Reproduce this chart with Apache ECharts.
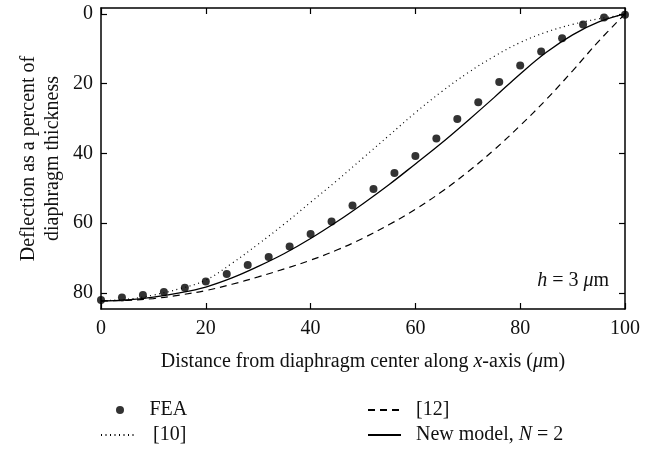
<!DOCTYPE html>
<html>
<head>
<meta charset="utf-8">
<script src="https://cdn.jsdelivr.net/npm/echarts@6/dist/echarts.min.js"></script>
<style>
html, body { margin: 0; padding: 0; background: #fff; }
#chart { width: 659px; height: 451px; }
</style>
</head>
<body>
<div id="chart"></div>
<script>
// FEA points, x = 0, 4, 8 ... 100 (um)
var feaX = [0, 4, 8, 12, 16, 20, 24, 28, 32, 36, 40, 44, 48, 52, 56, 60, 64, 68, 72, 76, 80, 84, 88, 92, 96, 100];
var feaY = [82.0, 81.3, 80.6, 79.7, 78.5, 76.7, 74.6, 72.0, 69.7, 66.7, 63.1, 59.5, 54.9, 50.2, 45.6, 40.7, 35.7, 30.1, 25.3, 19.5, 14.8, 10.8, 7.0, 3.0, 1.0, 0.2];

// curves sampled every 5 um
var curveX = [0, 5, 10, 15, 20, 25, 30, 35, 40, 45, 50, 55, 60, 65, 70, 75, 80, 85, 90, 95, 100];
var ref10 = [82.2, 81.8, 80.6, 78.8, 76.3, 71.5, 66.0, 60.2, 54.0, 47.8, 41.3, 34.8, 28.3, 22.3, 16.9, 12.2, 8.2, 5.2, 3.0, 1.4, 0.2];
var ref12 = [82.3, 82.1, 81.6, 80.6, 79.3, 77.5, 75.4, 73.1, 70.6, 67.7, 64.3, 60.4, 56.0, 51.0, 45.3, 39.0, 32.0, 24.5, 16.3, 7.8, 0.0];
var newModel = [82.3, 82.0, 81.2, 80.0, 78.3, 75.7, 72.4, 68.7, 64.4, 59.6, 54.4, 48.9, 43.0, 37.0, 30.6, 24.0, 17.2, 11.0, 6.0, 2.3, 0.0];

var yTicks = [0, 20, 40, 60, 80];

function pairs(xs, ys) {
    return xs.map(function (x, i) { return [x, ys[i]]; });
}

var chart = echarts.init(document.getElementById('chart'));
var font = 'Liberation Serif';
var fs = 20;
var rich = {
    a: { fontFamily: font, fontSize: fs, color: '#111' },
    i: { fontFamily: font, fontSize: fs, color: '#111', fontStyle: 'italic' }
};

var xBase = {
    type: 'value',
    min: 0,
    max: 100,
    interval: 20,
    splitLine: { show: false },
    axisLine: { onZero: false, lineStyle: { color: '#000', width: 1.5 } },
    axisTick: { inside: true, length: 6, lineStyle: { color: '#000', width: 1.2 } }
};
var yBase = {
    type: 'value',
    inverse: true,
    min: -1.7,
    max: 84.6,
    splitLine: { show: false },
    axisLine: { onZero: false, lineStyle: { color: '#000', width: 1.5 } },
    axisTick: { inside: true, length: 6, customValues: yTicks, lineStyle: { color: '#000', width: 1.2 } }
};

function legendAt(name, left, top, gap, isLine) {
    var lg = {
        data: [name],
        left: left,
        top: top,
        padding: 0,
        itemWidth: 33,
        itemHeight: 8,
        selectedMode: false,
        textStyle: {
            fontFamily: font,
            fontSize: fs,
            color: '#111',
            padding: [0, 0, 0, gap],
            rich: rich
        },
        formatter: function (n) {
            if (n.indexOf('New model') === 0) return '{a|New model, }{i|N}{a| = 2}';
            return n;
        }
    };
    if (isLine) lg.itemStyle = { color: 'rgba(0,0,0,0)', borderWidth: 0 };
    return lg;
}

chart.setOption({
    animation: false,
    grid: { left: 101, right: 34, top: 8, bottom: 142 },
    xAxis: [
        Object.assign({}, xBase, {
            position: 'bottom',
            name: '{a|Distance from diaphragm center along }{i|x}{a|-axis (}{i|μ}{a|m)}',
            nameLocation: 'middle',
            nameGap: 43,
            nameMoveOverlap: false,
            nameTextStyle: { fontFamily: font, fontSize: fs, color: '#111', rich: rich },
            axisLabel: { margin: 10, fontFamily: font, fontSize: fs, color: '#111' }
        }),
        Object.assign({}, xBase, { position: 'top', axisLabel: { show: false } })
    ],
    yAxis: [
        Object.assign({}, yBase, {
            position: 'left',
            name: 'Deflection as a percent of\ndiaphragm thickness',
            nameLocation: 'middle',
            nameGap: 36,
            nameMoveOverlap: false,
            nameTextStyle: { fontFamily: font, fontSize: fs, color: '#111', lineHeight: 24 },
            axisLabel: { margin: 8, customValues: yTicks, fontFamily: font, fontSize: fs, color: '#111' }
        }),
        Object.assign({}, yBase, { position: 'right', axisLabel: { show: false } })
    ],
    legend: [
        legendAt('FEA', 116, 400, 8, false),
        legendAt('[10]', 100, 425, 14, true),
        legendAt('[12]', 367, 400, 10, true),
        legendAt('New model, N = 2', 367, 425, 10, true)
    ],
    graphic: [{
        type: 'text',
        right: 50,
        top: 271,
        style: {
            text: '{i|h}{a| = 3 }{i|μ}{a|m}',
            rich: {
                a: { fontFamily: font, fontSize: fs, fill: '#111' },
                i: { fontFamily: font, fontSize: fs, fill: '#111', fontStyle: 'italic' }
            }
        }
    }],
    series: [
        {
            name: '[10]',
            type: 'line',
            data: pairs(curveX, ref10),
            smooth: 0.4,
            symbol: 'none',
            lineStyle: { color: '#000', width: 1.2, type: [1, 3.5] },
            itemStyle: { color: '#000' }
        },
        {
            name: '[12]',
            type: 'line',
            data: pairs(curveX, ref12),
            smooth: 0.4,
            symbol: 'none',
            lineStyle: { color: '#000', width: 1.2, type: [7, 5] },
            itemStyle: { color: '#000' }
        },
        {
            name: 'New model, N = 2',
            type: 'line',
            data: pairs(curveX, newModel),
            smooth: 0.4,
            symbol: 'none',
            lineStyle: { color: '#000', width: 1.3 },
            itemStyle: { color: '#000' }
        },
        {
            name: 'FEA',
            type: 'scatter',
            data: pairs(feaX, feaY),
            symbol: 'circle',
            symbolSize: 8,
            itemStyle: { color: '#000' },
            z: 5
        }
    ]
});
</script>
</body>
</html>
